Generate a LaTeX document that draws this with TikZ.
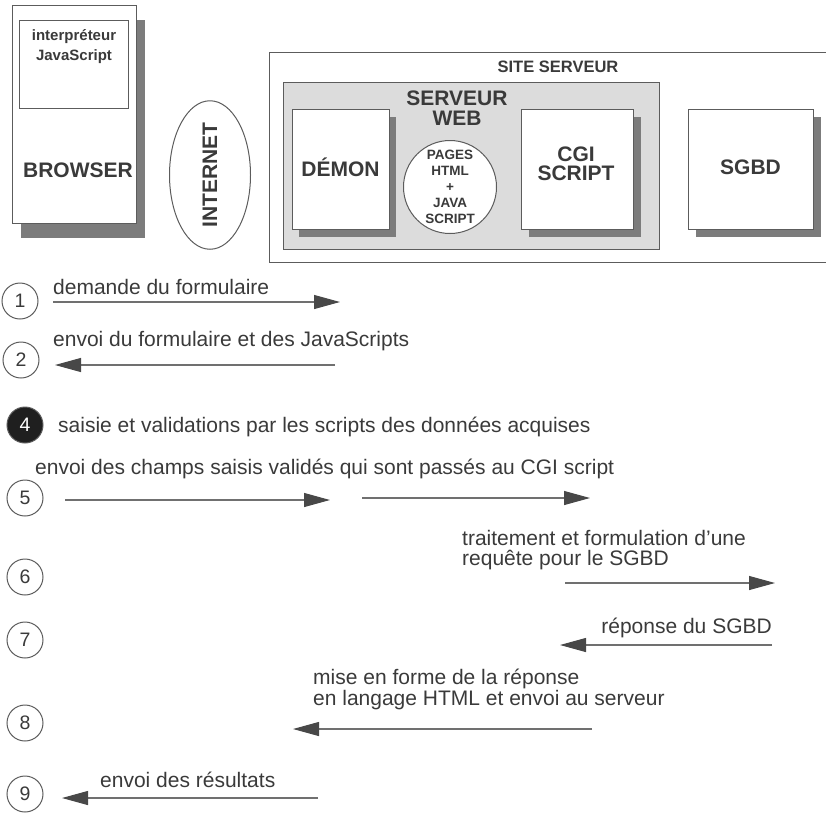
\documentclass[tikz,border=0pt]{standalone}
\usepackage{fontspec}
\setmainfont{Liberation Sans}
\usetikzlibrary{arrows.meta,shadows,shapes.geometric}
\definecolor{linec}{HTML}{5C5C5C}
\definecolor{textc}{HTML}{3A3A3A}
\definecolor{shadowc}{HTML}{7C7C7C}
\definecolor{webfill}{HTML}{DCDCDC}
\definecolor{headc}{HTML}{484848}
\definecolor{shaftc}{HTML}{707070}
\begin{document}
\begin{tikzpicture}[x=1pt,y=-1pt,
  box/.style={draw=linec, line width=1pt, fill=white, inner sep=0pt},
  shadowed/.style 2 args={drop shadow={shadow xshift=#1pt, shadow yshift=-#2pt, fill=shadowc, opacity=1}},
  bigbold/.style={font=\bfseries\fontsize{21}{19}\selectfont, text=textc, inner sep=0pt, align=center},
  smallbold/.style={font=\bfseries\fontsize{16.5}{20}\selectfont, text=textc, inner sep=0pt, align=center},
  txt/.style={font=\fontsize{21}{20}\selectfont, text=textc, inner sep=0pt, anchor=base west},
  numc/.style={circle, draw=linec, line width=1pt, minimum size=36pt, inner sep=0pt, font=\fontsize{19.5}{19.5}\selectfont, text=textc},
  flow/.style={draw=shaftc, line width=1.1pt, -{Triangle[length=26pt,width=14pt,color=headc]}}
]
\useasboundingbox (0,0) rectangle (826,812);

% ---------- client side ----------
\node[box, shadowed={9}{15}, minimum width=124pt, minimum height=218pt] (browser) at (74,114) {};
\node[box, minimum width=109pt, minimum height=88pt] (jsint) at (73.5,64) {};
\node[smallbold, font=\bfseries\fontsize{15}{20}\selectfont] (jslbl) at (74,47) {interpréteur\\JavaScript};
\node[bigbold] (browserlbl) at (78,170) {BROWSER};

\node[ellipse, draw=linec, line width=1pt, rotate=90, minimum width=130pt, minimum height=81pt, inner sep=0pt, font=\bfseries\fontsize{21}{21}\selectfont, text=textc] (internet) at (210,175) {INTERNET};

% ---------- server site ----------
\coordinate (siteTR) at (826,52);
\coordinate (siteTL) at (269,52);
\coordinate (siteBL) at (269,262);
\coordinate (siteBR) at (826,262);
\draw[draw=linec, line width=1pt] (siteTR) -- (siteTL) -- (siteBL) -- (siteBR);
\node[smallbold] (sitelbl) at (558,67) {SITE SERVEUR};

\node[draw=linec, line width=1pt, fill=webfill, minimum width=376pt, minimum height=167pt, inner sep=0pt] (web) at (471,165.5) {};
\node[bigbold, font=\bfseries\fontsize{21}{20}\selectfont] (weblbl) at (457,108) {SERVEUR\\WEB};

\node[box, shadowed={7}{8}, minimum width=97pt, minimum height=120pt] (demon) at (340.5,169) {};
\node[bigbold] (demonlbl) at (340.5,167) {DÉMON};

\node[circle, draw=linec, line width=1pt, fill=white, minimum size=93pt, inner sep=0pt, align=center, font=\bfseries\fontsize{13.5}{16}\selectfont, text=textc] (pages) at (450,187) {PAGES\\HTML\\+\\JAVA\\SCRIPT};

\node[box, shadowed={8}{8}, minimum width=112pt, minimum height=120pt] (cgi) at (577,169) {};
\node[bigbold] (cgilbl) at (576,164) {CGI\\SCRIPT};

\node[box, shadowed={8}{8}, minimum width=125pt, minimum height=120pt] (sgbd) at (750.5,169) {};
\node[bigbold] (sgbdlbl) at (750.5,167) {SGBD};

% ---------- steps ----------
\node[numc] (c1) at (20,301) {1};
\node[numc] (c2) at (21,360) {2};
\node[numc, fill=black!88, text=white] (c4) at (25,425) {4};
\node[numc] (c5) at (25,498) {5};
\node[numc] (c6) at (25,577) {6};
\node[numc] (c7) at (25,640) {7};
\node[numc] (c8) at (25,723) {8};
\node[numc] (c9) at (25,794) {9};

\node[txt] (t1) at (53,294) {demande du formulaire};
\node[txt] (t2) at (53,346) {envoi du formulaire et des JavaScripts};
\node[txt] (t4) at (58,432) {saisie et validations par les scripts des données acquises};
\node[txt] (t5) at (35,474) {envoi des champs saisis validés qui sont passés au CGI script};
\node[txt] (t6a) at (462,545) {traitement et formulation d’une};
\node[txt] (t6b) at (462,565) {requête pour le SGBD};
\node[txt, anchor=base east] (t7) at (772,633) {réponse du SGBD};
\node[txt] (t8a) at (313,684) {mise en forme de la réponse};
\node[txt] (t8b) at (313,705) {en langage HTML et envoi au serveur};
\node[txt] (t9) at (100,787) {envoi des résultats};

\coordinate (a1s) at (53,302);  \coordinate (a1e) at (340,302);
\coordinate (a2s) at (335,365); \coordinate (a2e) at (55,365);
\coordinate (a5s) at (65,500);  \coordinate (a5e) at (330,500);
\coordinate (b5s) at (362,498); \coordinate (b5e) at (590,498);
\coordinate (a6s) at (565,583); \coordinate (a6e) at (775,583);
\coordinate (a7s) at (772,645); \coordinate (a7e) at (560,645);
\coordinate (a8s) at (592,729); \coordinate (a8e) at (293,729);
\coordinate (a9s) at (318,798); \coordinate (a9e) at (62,798);

\draw[flow] (a1s) -- (a1e);
\draw[flow] (a2s) -- (a2e);
\draw[flow] (a5s) -- (a5e);
\draw[flow] (b5s) -- (b5e);
\draw[flow] (a6s) -- (a6e);
\draw[flow] (a7s) -- (a7e);
\draw[flow] (a8s) -- (a8e);
\draw[flow] (a9s) -- (a9e);
\end{tikzpicture}
\end{document}
